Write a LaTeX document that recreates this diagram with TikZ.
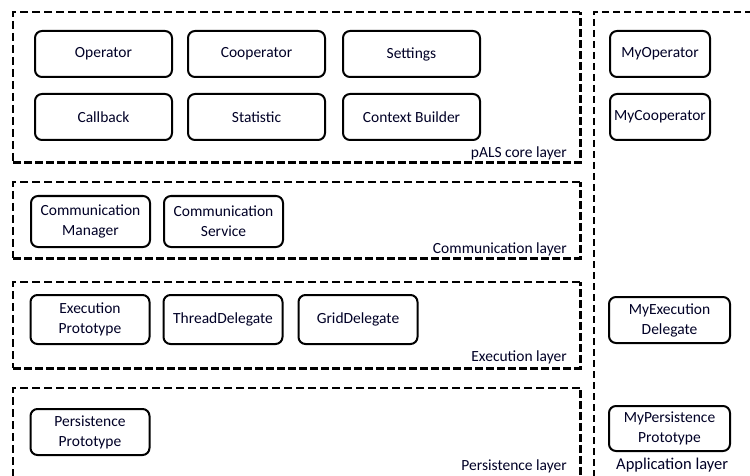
\documentclass[tikz,border=0pt]{standalone}
\usepackage{fontspec}
\setmainfont{Carlito}
\begin{document}
\begin{tikzpicture}[x=1pt,y=-1pt,
  comp/.style={draw=black, line width=2pt, rounded corners=7pt, fill=white,
    align=center, inner sep=0pt, text=black!85!blue,
    font=\fontsize{15.5}{20}\selectfont},
  wide/.style={comp, minimum width=137pt, minimum height=46pt},
  mid/.style={comp, minimum width=119pt, minimum height=49pt},
  app/.style={comp, minimum width=100pt, minimum height=46pt},
  appwide/.style={comp, minimum width=121pt, minimum height=46pt},
  layerthin/.style={draw=black, line width=1.3pt, dash pattern=on 8pt off 4pt},
  layerthick/.style={draw=black, line width=3pt, dash pattern=on 8pt off 3pt},
  layerlabel/.style={anchor=east, inner sep=0pt, text=black!85!blue,
    font=\fontsize{15.5}{17}\selectfont},
]
\useasboundingbox (0,0) rectangle (750,476);
\fill[white] (0,0) rectangle (750,476);

% layer frames: thin top/left, heavy bottom/right
\coordinate (coreNW) at (13,12);   \coordinate (coreSE) at (580,163);
\coordinate (commNW) at (13,182);  \coordinate (commSE) at (580,258);
\coordinate (execNW) at (13,282);  \coordinate (execSE) at (580,368);
\coordinate (persNW) at (13,388);  \coordinate (persSE) at (580,480);
\foreach \l in {core,comm,exec,pers}{
  \draw[layerthin] (\l SE |- \l NW) -- (\l NW) -- (\l NW |- \l SE);
  \draw[layerthick] (\l NW |- \l SE) -- (\l SE) -- (\l SE |- \l NW);
}
% application layer frame (open to the right and below)
\coordinate (appNW) at (594,12);
\draw[draw=black, line width=1.2pt, dash pattern=on 7pt off 4pt]
  (752,12) -- (appNW) -- (594,480);

% pALS core layer
\node[wide] (operator)   at (103.5,54)  {Operator};
\node[wide] (cooperator) at (256.5,54)  {Cooperator};
\node[wide] (settings)   at (411.5,54)  {Settings};
\node[wide] (callback)   at (103.5,117) {Callback};
\node[wide] (statistic)  at (256.5,117) {Statistic};
\node[wide] (context)    at (411.5,117) {Context Builder};
\node[layerlabel] (corelbl) at (567,153) {pALS core layer};

% communication layer
\node[mid, minimum height=51pt] (commmgr) at (90.5,221.5) {Communication\\Manager};
\node[mid, minimum height=51pt] (commsvc) at (223.5,221.5) {Communication\\Service};
\node[layerlabel] (commlbl) at (567,249) {Communication layer};

% execution layer
\node[mid] (execproto) at (90,319.5)  {Execution\\Prototype};
\node[mid] (thread)    at (223,319.5) {ThreadDelegate};
\node[mid] (grid)      at (358,319.5) {GridDelegate};
\node[layerlabel] (execlbl) at (567,357) {Execution layer};

% persistence layer
\node[mid, minimum height=46pt] (persproto) at (90,432) {Persistence\\Prototype};
\node[layerlabel] (perslbl) at (567,466) {Persistence layer};

% application layer
\node[app] (myop)   at (660,54)  {MyOperator};
\node[app] (mycoop) at (660,117) {MyCooperator};
\node[appwide] (myexec) at (669.5,320)   {MyExecution\\Delegate};
\node[appwide, minimum height=45pt] (mypers) at (669.5,428.5) {MyPersistence\\Prototype};
\node[layerlabel, anchor=west, font=\fontsize{16.5}{18}\selectfont] (applbl) at (616,465) {Application layer};
\end{tikzpicture}
\end{document}
